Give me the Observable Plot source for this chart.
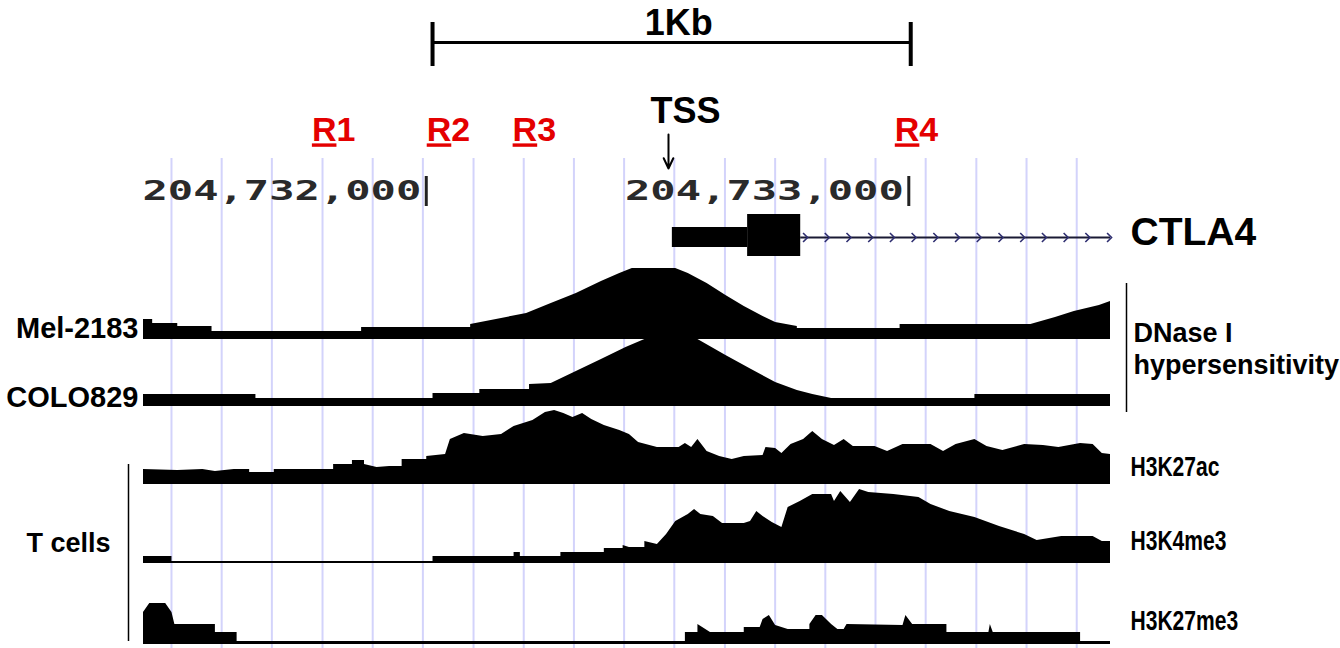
<!DOCTYPE html>
<html>
<head>
<meta charset="utf-8">
<script src="https://cdn.jsdelivr.net/npm/d3@7"></script>
<script src="https://cdn.jsdelivr.net/npm/@observablehq/plot@0.6"></script>
<style>
  html, body { margin: 0; padding: 0; background: #fff; }
  #chart { width: 1340px; height: 648px; overflow: hidden; }
</style>
</head>
<body>
<div id="chart"></div>
<script>
// ---------- data (genomic window, chr2) ----------
const windowStart = 204731414;
const windowEnd = 204733418;

const rulerTicks = [204732000, 204733000];
const rulerLabels = ["204,732,000", "204,733,000"];

// guideline positions (bp offsets from windowStart)
const gridOffsets = [58, 162, 266, 371, 475, 579, 684, 788, 892, 996, 1100, 1205, 1309, 1413, 1517, 1621, 1726, 1830, 1934];

const scaleBarStart = 599, scaleBarEnd = 1590, scaleBarLabel = "1Kb";

const regionNames = ["R1", "R2", "R3", "R4"];
const regionOffsets = [394, 632, 810, 1602];

const tssOffset = 1088;
const tssLabel = "TSS";

const geneName = "CTLA4";
const utrStart = 1096, cdsStart = 1252, cdsEnd = 1362;

// signal profiles: [bp offset, signal]
const mel2183 = [[0,20],[19,20],[19,16],[71,16],[71,13],[142,13],[142,8],[452,8],[452,12],[678,12],[678,15],[742,21],[794,26],[845,36],[897,46],[949,58],[987,66],[1013,71],[1103,71],[1129,66],[1168,56],[1207,44],[1245,33],[1284,23],[1310,17],[1355,13],[1355,11],[1568,11],[1568,15],[1839,15],[1890,22],[1929,28],[1981,34],[2004,38]];
const colo829 = [[0,12],[233,12],[233,8],[600,8],[600,13],[697,13],[697,17],[800,17],[800,22],[845,23],[897,35],[949,47],[1000,59],[1039,67],[1149,67],[1207,51],[1260,37],[1310,24],[1355,16],[1387,12],[1426,8],[1723,8],[1723,12],[2004,12]];
const h3k27ac = [[0,15],[71,14],[123,15],[149,13],[188,15],[220,15],[220,12],[271,12],[271,15],[394,15],[394,20],[433,20],[433,24],[458,24],[458,20],[484,17],[510,18],[536,18],[536,25],[587,25],[587,28],[626,30],[636,45],[665,51],[704,48],[742,50],[768,58],[807,64],[833,72],[852,74],[871,71],[890,67],[910,71],[929,65],[955,59],[987,54],[1007,50],[1026,42],[1065,37],[1110,37],[1123,41],[1136,37],[1149,45],[1168,33],[1194,28],[1220,25],[1245,28],[1284,29],[1290,37],[1310,36],[1323,31],[1342,40],[1368,45],[1387,53],[1407,45],[1432,39],[1452,45],[1471,38],[1516,38],[1542,33],[1574,40],[1632,40],[1658,33],[1684,40],[1723,45],[1748,38],[1781,34],[1826,40],[1865,39],[1897,37],[1942,41],[1968,40],[1987,31],[2004,30]];
const h3k4me3 = [[0,7],[59,7],[59,2],[600,2],[600,7],[768,7],[768,11],[781,11],[781,7],[865,7],[865,11],[955,11],[955,15],[994,15],[994,18],[1007,16],[1039,16],[1039,22],[1065,19],[1084,29],[1103,42],[1129,49],[1142,54],[1155,49],[1181,47],[1200,40],[1245,40],[1258,42],[1271,52],[1284,47],[1303,41],[1323,36],[1336,56],[1361,62],[1387,69],[1426,69],[1432,62],[1445,72],[1465,61],[1484,74],[1503,71],[1555,69],[1607,66],[1632,59],[1671,52],[1723,46],[1774,37],[1826,29],[1852,23],[1903,27],[1968,27],[1987,22],[2004,22]];
const h3k27me3 = [[0,32],[13,41],[46,41],[59,32],[65,20],[149,20],[149,12],[194,12],[194,3],[1123,3],[1123,12],[1149,12],[1149,20],[1162,16],[1175,12],[1245,12],[1245,17],[1278,17],[1284,25],[1297,29],[1310,19],[1336,15],[1381,15],[1381,20],[1394,29],[1407,29],[1426,20],[1439,15],[1452,15],[1458,20],[1574,19],[1580,29],[1594,20],[1665,20],[1665,12],[1752,12],[1755,20],[1761,12],[1942,12],[1942,3],[2004,3]];

const trackNames = ["Mel-2183", "COLO829", "H3K27ac", "H3K4me3", "H3K27me3"];
const trackProfiles = [mel2183, colo829, h3k27ac, h3k4me3, h3k27me3];

// ---------- layout (vertical positions, px) ----------
const trackBase = [339, 406, 484, 563, 644];
const trackLabelY = [328, 397, 467, 541, 621];
const trackLabelSide = ["left", "left", "right", "right", "right"];
const trackLabelSize = [29, 29, 27, 27, 27];

const FONT = "'Liberation Sans', Arial, Helvetica, sans-serif";
const RED = "#e40000";
const pos = off => windowStart + off;

const chevron = {
  draw(ctx, size) {
    const r = Math.sqrt(size / Math.PI);
    ctx.moveTo(-r * 0.55, -r);
    ctx.lineTo(r * 0.45, 0);
    ctx.lineTo(-r * 0.55, r);
  }
};
const chevronOffsets = d3.range(1372, 2004, 45);

const marks = [];

// guidelines
marks.push(Plot.ruleX(gridOffsets, {x: pos, y1: 158, y2: 648, stroke: "#d3d3fb", strokeWidth: 2}));

// scale bar
marks.push(Plot.link([0], {x1: () => pos(scaleBarStart), x2: () => pos(scaleBarEnd), y1: () => 42, y2: () => 42, stroke: "#000", strokeWidth: 3}));
marks.push(Plot.ruleX([scaleBarStart, scaleBarEnd], {x: pos, y1: 22, y2: 66, stroke: "#000", strokeWidth: 4}));
marks.push(Plot.text([scaleBarLabel], {x: () => pos((scaleBarStart + scaleBarEnd) / 2), y: () => 23, text: d => d, dx: 7, fontSize: 36, fontWeight: "bold", fontFamily: FONT, fill: "#000"}));

// region labels
marks.push(Plot.text(regionNames, {x: (d, i) => pos(regionOffsets[i]), y: () => 130, text: d => d, fontSize: 34, fontWeight: "bold", fontFamily: FONT, fill: RED}));

// TSS
marks.push(Plot.text([tssLabel], {x: () => pos(tssOffset), y: () => 111, dx: 17, text: d => d, fontSize: 36, fontWeight: "bold", fontFamily: FONT, fill: "#000"}));
marks.push(Plot.arrow([0], {x1: () => pos(tssOffset), x2: () => pos(tssOffset), y1: () => 134, y2: () => 168, stroke: "#000", strokeWidth: 2, headLength: 12, headAngle: 50}));

// ruler
marks.push(Plot.ruleX(rulerTicks, {x: d => d, y1: 176, y2: 206, stroke: "#222", strokeWidth: 3}));
marks.push(Plot.text(rulerTicks, {x: d => d, y: () => 191, text: (d, i) => rulerLabels[i], textAnchor: "end", dx: -5, fontSize: 27, fontWeight: "bold", fontFamily: "'DejaVu Sans Mono', monospace", fill: "#2a2a2a"}));

// gene model
marks.push(Plot.ruleY([237], {x1: () => pos(cdsEnd), x2: () => windowEnd, stroke: "#1a1a34", strokeWidth: 2}));
marks.push(Plot.dot(chevronOffsets, {x: pos, y: () => 237, symbol: chevron, r: 4.5, stroke: "#2e2e70", fill: "none", strokeWidth: 1.6}));
marks.push(Plot.rect([0], {x1: () => pos(utrStart), x2: () => pos(cdsStart), y1: () => 227, y2: () => 247, fill: "#000"}));
marks.push(Plot.rect([0], {x1: () => pos(cdsStart), x2: () => pos(cdsEnd), y1: () => 214, y2: () => 256, fill: "#000"}));
marks.push(Plot.text([geneName], {x: () => windowEnd, y: () => 232, dx: 20, textAnchor: "start", text: d => d, fontSize: 39, fontWeight: "bold", fontFamily: FONT, fill: "#000"}));

// signal tracks
trackProfiles.forEach((profile, i) => {
  const base = trackBase[i];
  marks.push(Plot.areaY(profile, {x: d => pos(d[0]), y1: () => base, y2: d => base - d[1], fill: "#000", curve: "linear"}));
  const left = trackLabelSide[i] === "left";
  marks.push(Plot.text([trackNames[i]], {
    x: () => left ? windowStart : windowEnd, y: () => trackLabelY[i], text: d => d,
    dx: left ? -5 : 20, textAnchor: left ? "end" : "start",
    fontSize: trackLabelSize[i], fontWeight: "bold", fontFamily: FONT, fill: "#000"
  }));
});

// group annotations
marks.push(Plot.ruleX([windowEnd], {x: d => d, dx: 16, y1: 283, y2: 412, stroke: "#000", strokeWidth: 1.5}));
marks.push(Plot.text(["DNase I", "hypersensitivity"], {x: () => windowEnd, y: (d, i) => [333, 365][i], dx: 23, textAnchor: "start", text: d => d, fontSize: 27, fontWeight: "bold", fontFamily: FONT, fill: "#000"}));
marks.push(Plot.ruleX([windowStart], {x: d => d, dx: -15, y1: 464, y2: 641, stroke: "#000", strokeWidth: 1.5}));
marks.push(Plot.text(["T cells"], {x: () => windowStart, y: () => 543, dx: -33, textAnchor: "end", text: d => d, fontSize: 27, fontWeight: "bold", fontFamily: FONT, fill: "#000"}));

const svg = Plot.plot({
  width: 1340,
  height: 648,
  marginLeft: 143,
  marginRight: 230,
  marginTop: 0,
  marginBottom: 0,
  x: {domain: [windowStart, windowEnd], axis: null},
  y: {domain: [0, 648], range: [0, 648], axis: null},
  style: {background: "#fff", overflow: "visible"},
  marks
});

// post-styling of a few labels
function stretch(sel, sx) {
  const tr = sel.attr("transform");
  if (tr) sel.attr("transform", tr + ` scale(${sx},1)`);
  else {
    const x0 = +sel.attr("x") || 0;
    sel.attr("transform", `translate(${x0},0) scale(${sx},1) translate(${-x0},0)`);
  }
}
const condensed = new Set(["H3K27ac", "H3K4me3", "H3K27me3"]);
d3.select(svg).selectAll("text").each(function() {
  const t = this.textContent;
  const sel = d3.select(this);
  if (rulerLabels.includes(t)) {
    stretch(sel, 1.56);   // wide bitmap-like ruler font
  } else if (regionNames.includes(t)) {
    sel.text("");
    sel.append("tspan").style("text-decoration", "underline").style("text-decoration-thickness", "3px").text(t.slice(0, 1));
    sel.append("tspan").text(t.slice(1));
  } else if (condensed.has(t)) {
    stretch(sel, 0.78);
  }
});

document.getElementById("chart").appendChild(svg);
</script>
</body>
</html>
